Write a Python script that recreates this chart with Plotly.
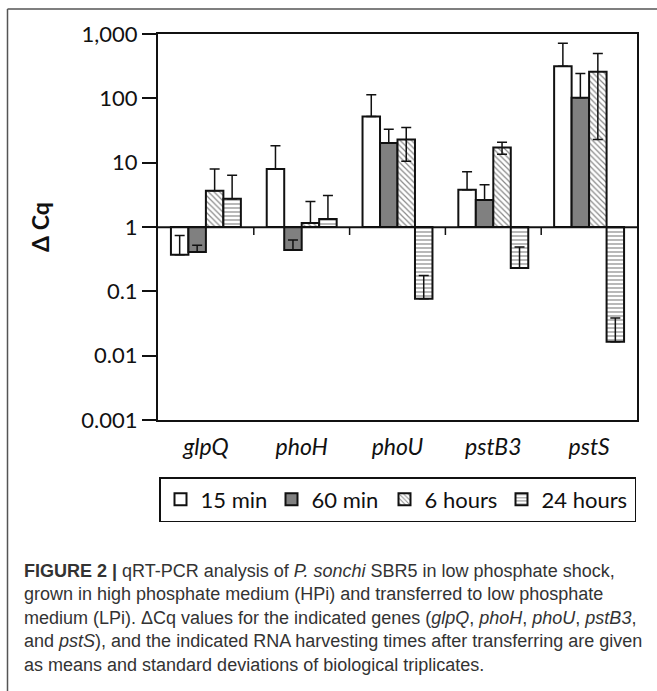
import plotly.graph_objects as go

# ---------------- data ----------------
genes = ["glpQ", "phoH", "phoU", "pstB3", "pstS"]
series_names = ["15 min", "60 min", "6 hours", "24 hours"]

val_15min = [0.37, 8.0, 52.0, 3.8, 316.0]
err_15min = [0.37, 10.3, 62.0, 3.4, 403.0]

val_60min = [0.41, 0.44, 20.2, 2.63, 102.0]
err_60min = [0.11, 0.19, 13.0, 1.9, 141.0]

val_6h = [3.66, 1.15, 22.9, 17.2, 260.0]
err_6h_plus = [4.3, 1.35, 12.4, 3.5, 237.0]
err_6h_minus = [0.0, 0.0, 12.4, 3.7, 237.0]

val_24h = [2.75, 1.33, 0.077, 0.23, 0.0164]
err_24h = [3.6, 1.77, 0.10, 0.26, 0.022]

ytick_vals = [0.001, 0.01, 0.1, 1, 10, 100, 1000]
ytick_text = ["0.001", "0.01", "0.1", "1", "10", "100", "1,000"]

BASE = 1  # bars grow from 1 on the log axis

# ---------------- layout geometry ----------------
W, H = 657, 691
L, R, T, B = 158, 637, 34, 420  # plot area in px


def px_x(x):
    return (x - L) / (R - L)


def px_y(y):
    return (B - y) / (B - T)


CHART_FONT = "Lato"
INK = "#111111"

fig = go.Figure()

styles = [
    dict(color="white"),
    dict(color="#808080"),
    dict(color="white", pattern=dict(shape="\\", fgcolor=INK, bgcolor="white",
                                     size=4, solidity=0.3)),
    dict(color="white", pattern=dict(shape="-", fgcolor=INK, bgcolor="white",
                                     size=4, solidity=0.3)),
]
legend_widths = [66, 68, 72, 88]
values = [val_15min, val_60min, val_6h, val_24h]
plus = [err_15min, err_60min, err_6h_plus, err_24h]
minus = [[0] * len(genes), [0] * len(genes), err_6h_minus, [0] * len(genes)]

for name, vals, ep, em, st, lw in zip(series_names, values, plus, minus, styles, legend_widths):
    fig.add_trace(go.Bar(
        name=name,
        x=genes,
        y=[v - BASE for v in vals],
        base=[BASE] * len(vals),
        marker=dict(line=dict(color=INK, width=2), **st),
        error_y=dict(type="data", symmetric=False, array=ep, arrayminus=em,
                     color=INK, thickness=1.5, width=5),
        legendwidth=lw,
    ))

shapes = []
# x axis line crossing at 1
shapes.append(dict(type="line", xref="paper", yref="paper", x0=0, x1=1,
                   y0=px_y(227.3), y1=px_y(227.3), line=dict(color=INK, width=2)))
# category boundary ticks on that line
for k in range(1, len(genes)):
    shapes.append(dict(type="line", xref="x", yref="paper", x0=k - 0.5, x1=k - 0.5,
                       y0=px_y(227.3), y1=px_y(235), line=dict(color=INK, width=1.5)))
# outer figure frame (top + left)
shapes.append(dict(type="line", xref="paper", yref="paper", x0=px_x(7.5), x1=px_x(657),
                   y0=px_y(9), y1=px_y(9), line=dict(color="#555555", width=1.5)))
shapes.append(dict(type="line", xref="paper", yref="paper", x0=px_x(7.5), x1=px_x(7.5),
                   y0=px_y(9), y1=px_y(700), line=dict(color="#555555", width=1.5)))

caption = (
    "<b>FIGURE 2 |</b> qRT-PCR analysis of <i>P. sonchi</i> SBR5 in low phosphate shock,<br>"
    "grown in high phosphate medium (HPi) and transferred to low phosphate<br>"
    "medium (LPi). ΔCq values for the indicated genes (<i>glpQ</i>, <i>phoH</i>, <i>phoU</i>, <i>pstB3</i>,<br>"
    "and <i>pstS</i>), and the indicated RNA harvesting times after transferring are given<br>"
    "as means and standard deviations of biological triplicates."
)

annotations = [
    dict(text="<b>Δ Cq</b>", xref="paper", yref="paper", x=px_x(40), y=px_y(227),
         textangle=-90, showarrow=False, xanchor="center", yanchor="middle",
         font=dict(family=CHART_FONT, size=23, color=INK)),
    dict(text=caption, xref="paper", yref="paper", x=px_x(22), y=px_y(559),
         showarrow=False, xanchor="left", yanchor="top", align="left",
         font=dict(family="Liberation Sans", size=18, color="#333333")),
]

fig.update_layout(
    width=W, height=H,
    margin=dict(l=L, r=W - R, t=T, b=H - B, pad=0),
    paper_bgcolor="white", plot_bgcolor="white",
    barmode="group", bargap=0.27, bargroupgap=0,
    showlegend=True,
    legend=dict(orientation="h", x=0.5, xanchor="center", y=px_y(477), yanchor="top",
                bordercolor=INK, borderwidth=1.5,
                font=dict(family=CHART_FONT, size=22, color=INK),
                entrywidthmode="pixels", traceorder="normal"),
    xaxis=dict(showline=True, mirror=True, linecolor=INK, linewidth=2,
               ticks="", showgrid=False, zeroline=False,
               tickfont=dict(family=CHART_FONT, size=23, color=INK, style="italic"),
               ticklabelstandoff=5),
    yaxis=dict(type="log", range=[-3, 3], tickvals=ytick_vals, ticktext=ytick_text,
               ticks="outside", ticklen=14, tickwidth=1.5, tickcolor=INK,
               showline=True, mirror=True, linecolor=INK, linewidth=2,
               showgrid=False, zeroline=False,
               tickfont=dict(family=CHART_FONT, size=22, color=INK)),
    shapes=shapes,
    annotations=annotations,
)

fig.write_html("out.html")
